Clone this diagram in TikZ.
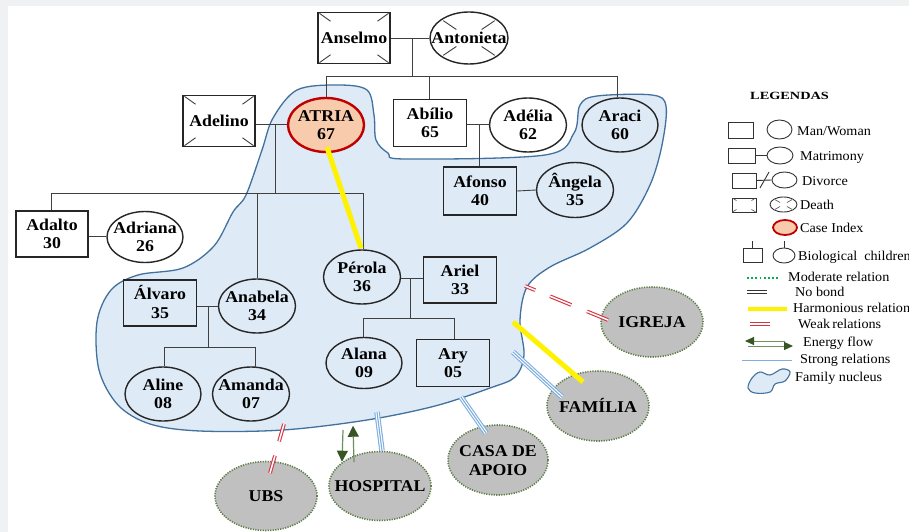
\documentclass[tikz,border=0pt]{standalone}
\usepackage{fontspec}
\setmainfont{Liberation Serif}
\newfontfamily\nodefont[FakeStretch=1.08]{Liberation Serif}
\newfontfamily\legfont[FakeStretch=1.05]{Liberation Serif}
\newfontfamily\legtitlefont[FakeStretch=1.3]{Liberation Serif}
\usetikzlibrary{shapes.geometric,calc,arrows.meta}
\definecolor{pagegrey}{HTML}{F0F1F3}
\definecolor{linegrey}{HTML}{404040}
\definecolor{nucfill}{HTML}{DEEAF6}
\definecolor{nucline}{HTML}{41719C}
\definecolor{extgrey}{HTML}{C0C0C0}
\definecolor{extgreen}{HTML}{5E7F47}
\definecolor{casefill}{HTML}{F8CBAD}
\definecolor{caseline}{HTML}{C00000}
\definecolor{weakred}{HTML}{D93340}
\definecolor{strongblue}{HTML}{7DAEE0}
\definecolor{energyline}{HTML}{6F8F5F}
\definecolor{energygreen}{HTML}{375623}
\definecolor{modgreen}{HTML}{00B050}
\newcommand{\tx}[1]{\raisebox{-12.5pt}{\smash{\makebox[0pt]{\begin{tabular}{@{}c@{}}#1\end{tabular}}}}}
\newcommand{\deathbox}[1]{%
  \foreach \cc in {north west,north east,south west,south east}{%
    \draw[link] ($(#1.\cc)!0.06!(#1.center)$) -- ($(#1.\cc)!0.36!(#1.center)$);}}
\newcommand{\deathell}[1]{%
  \foreach \cc in {north west,north east,south west,south east}{%
    \draw[link] ($(#1.center)!0.45!(#1.\cc)$) -- ($(#1.center)!0.92!(#1.\cc)$);}}
\begin{document}
\begin{tikzpicture}[x=1pt,y=-1pt,
  person/.style={font=\nodefont\bfseries\fontsize{16.5}{18.5}\selectfont, inner sep=0pt, line width=1.4pt, draw=black!85},
  manbox/.style={person, rectangle, minimum width=73pt, minimum height=47pt},
  womanell/.style={person, ellipse, minimum width=77pt, minimum height=54pt},
  ext/.style={ellipse, fill=extgrey, draw=extgreen, line width=1.6pt, dash pattern=on 1.2pt off 1.3pt, minimum width=102pt, minimum height=69pt, inner sep=0pt, font=\nodefont\bfseries\fontsize{16.5}{19}\selectfont},
  link/.style={draw=linegrey, line width=0.9pt},
  harm/.style={draw=yellow, line width=5pt},
  weakrel/.style={draw=weakred, double=white, double distance=1.5pt, line width=1.1pt},
  strongrel/.style={draw=strongblue, line width=5.5pt, postaction={draw=white, line width=3.3pt}, postaction={draw=strongblue, line width=1.1pt}},
  energy/.style={draw=energyline, line width=1.2pt, -{Triangle[length=11pt,width=11pt,color=energygreen]}},
  nucleus/.style={fill=nucfill, draw=nucline, line width=1.3pt},
  legtext/.style={anchor=west, inner sep=0pt, font=\legfont\fontsize{13.5}{15}\selectfont},
  legbox/.style={draw=black!80, line width=0.9pt, rectangle, inner sep=0pt},
  legell/.style={draw=black!80, line width=0.9pt, ellipse, inner sep=0pt}
]
% page
\useasboundingbox (0,0) rectangle (909,532);
\fill[pagegrey] (0,0) rectangle (909,532);
\fill[white] (8,6) rectangle (909,532);

% family nucleus
\draw[nucleus] plot[smooth cycle, tension=0.55] coordinates {(337,85) (367,90) (374,115) (376,140) (388,153) (405,159) (545,155) (574,133) (580,105) (597,96) (652,95) (666,106) (662,145) (650,185) (627,223) (590,248) (550,267) (527,287) (520,320) (524,355) (515,377) (490,388) (435,406) (367,420) (283,430) (200,431) (150,424) (118,405) (99,370) (97,322) (111,290) (138,275) (183,268) (214,246) (233,212) (246,195) (262,150) (273,118) (297,90)};

% persons
\node[manbox, minimum width=72pt, minimum height=51pt] (anselmo) at (354,38) {\tx{Anselmo}};
\node[womanell, minimum width=78pt, minimum height=52pt] (antonieta) at (469,38) {\tx{Antonieta}};
\node[manbox, minimum width=72pt, minimum height=51pt] (adelino) at (219,121) {\tx{Adelino}};
\node[womanell, fill=casefill, draw=caseline, line width=2.4pt, minimum width=76pt] (atria) at (326,125) {\tx{ATRIA\\67}};
\node[manbox] (abilio) at (430,123) {\tx{Abílio\\65}};
\node[womanell] (adelia) at (528,125) {\tx{Adélia\\62}};
\node[womanell, minimum width=76pt] (araci) at (620,125) {\tx{Araci\\60}};
\node[manbox, minimum height=48pt] (afonso) at (480,191) {\tx{Afonso\\40}};
\node[womanell, minimum height=55pt] (angela) at (575,190) {\tx{Ângela\\35}};
\node[manbox, minimum width=72pt, minimum height=46pt] (adalto) at (52,234) {\tx{Adalto\\30}};
\node[womanell, minimum width=76pt, minimum height=51pt] (adriana) at (145,237) {\tx{Adriana\\26}};
\node[manbox, minimum height=46pt] (alvaro) at (160,303) {\tx{Álvaro\\35}};
\node[womanell] (anabela) at (257,306) {\tx{Anabela\\34}};
\node[womanell] (perola) at (362,277) {\tx{Pérola\\36}};
\node[manbox, minimum height=46pt] (ariel) at (460,280) {\tx{Ariel\\33}};
\node[womanell, minimum width=76pt] (aline) at (163,394) {\tx{Aline\\08}};
\node[womanell] (amanda) at (251,394) {\tx{Amanda\\07}};
\node[womanell, minimum width=76pt, minimum height=51pt] (alana) at (364,363) {\tx{Alana\\09}};
\node[manbox] (ary) at (453,363) {\tx{Ary\\05}};

\deathbox{anselmo}
\deathbox{adelino}
\deathell{antonieta}

% kinship connectors
\coordinate (m1) at (412,38);
\coordinate (s1) at (412,76);
\coordinate (s1a) at (326,76);
\coordinate (s1b) at (429,76);
\coordinate (s1c) at (617,76);
\draw[link] (anselmo.east) -- (antonieta.west);
\draw[link] (m1) -- (s1);
\draw[link] (s1a) -- (s1c);
\draw[link] (s1a) -- (s1a |- atria.north);
\draw[link] (s1b) -- (s1b |- abilio.north);
\draw[link] (s1c) -- (s1c |- araci.north);

\coordinate (m2) at (275,124);
\coordinate (s2) at (275,193);
\coordinate (s2a) at (51,193);
\coordinate (s2b) at (257,193);
\coordinate (s2c) at (363,193);
\draw[link] (adelino.east |- m2) -- (atria.west |- m2);
\draw[link] (m2) -- (s2);
\draw[link] (s2a) -- (s2c);
\draw[link] (s2a) -- (s2a |- adalto.north);
\draw[link] (s2b) -- (s2b |- anabela.north);
\draw[link] (s2c) -- (s2c |- perola.north);

\coordinate (m3) at (98,236);
\draw[link] (adalto.east |- m3) -- (adriana.west |- m3);

\coordinate (m4) at (208,306);
\coordinate (s4) at (208,347);
\coordinate (s4a) at (164,347);
\coordinate (s4b) at (255,347);
\draw[link] (alvaro.east |- m4) -- (anabela.west |- m4);
\draw[link] (m4) -- (s4);
\draw[link] (s4a) -- (s4b);
\draw[link] (s4a) -- (s4a |- aline.north);
\draw[link] (s4b) -- ($(s4b |- amanda.north)+(0,1.5)$);

\coordinate (m5) at (410,278);
\coordinate (s5) at (410,318);
\coordinate (s5a) at (363,318);
\coordinate (s5b) at (454,318);
\draw[link] (perola.east |- m5) -- (ariel.west |- m5);
\draw[link] (m5) -- (s5);
\draw[link] (s5a) -- (s5b);
\draw[link] (s5a) -- (s5a |- alana.north);
\draw[link] (s5b) -- (s5b |- ary.north);

\coordinate (m6) at (479,124);
\draw[link] (abilio.east |- m6) -- (adelia.west |- m6);
\draw[link] (m6) -- (m6 |- afonso.north);
\draw[link] (afonso.east) -- (angela.west);

% external systems
\node[ext] (ubs) at (266,496) {\tx{UBS}};
\node[ext] (hosp) at (380,486) {\tx{HOSPITAL}};
\node[ext, minimum width=100pt, minimum height=70pt] (casa) at (498,460) {\tx{CASA DE\\APOIO}};
\node[ext, minimum height=70pt] (familia) at (598,406) {\tx{FAMÍLIA}};
\node[ext, minimum height=70pt] (igreja) at (652,322) {\tx{IGREJA}};

% relations
\draw[harm] ($(atria.south)+(1,-6)$) -- ($(perola.north)+(-1,-1)$);
\coordinate (harmnuc) at (513,322);
\draw[harm] (harmnuc) -- ($(familia.center)+(-15,-24)$);

\coordinate (weaknuc) at (525,286);
\draw[weakrel, dash pattern=on 11pt off 16pt on 23pt off 17pt on 23pt off 30pt] (weaknuc) -- ($(igreja.center)+(-44,-2)$);
\coordinate (weakubs) at (284,424);
\draw[weakrel, dash pattern=on 18pt off 15pt on 18pt off 30pt] (weakubs) -- ($(ubs.center)+(4,-23)$);

\coordinate (stronghosp) at (377,412);
\draw[strongrel] (stronghosp) -- ($(hosp.north)+(2,0)$);
\coordinate (strongcasa) at (461,397);
\draw[strongrel] (strongcasa) -- ($(casa.center)+(-12,-27)$);
\coordinate (strongfam) at (513,352);
\draw[strongrel] (strongfam) -- ($(familia.center)+(-36,-9)$);

\coordinate (enA) at (343,430);
\coordinate (enB) at (354,462);
\draw[energy] (enA) -- ($(hosp.north)+(-38,11)$);
\draw[energy] (enB) -- ($(hosp.north)+(-27,-25)$);

% legend
\node[anchor=west, inner sep=0pt, font=\legtitlefont\bfseries\fontsize{11}{12}\selectfont] (legtitle) at (750,96) {LEGENDAS};

\node[legbox, minimum width=25pt, minimum height=16pt] (lg1a) at (740.5,130) {};
\node[legell, minimum width=25pt, minimum height=19pt] (lg1b) at (779.5,129.5) {};
\node[legtext] (lt1) at (797,131) {Man/Woman};

\node[legbox, minimum width=27pt, minimum height=15pt] (lg2a) at (741.5,155.5) {};
\node[legell, minimum width=26pt, minimum height=17pt] (lg2b) at (780,155.5) {};
\draw[draw=black!80, line width=0.9pt] (lg2a.east) -- (lg2b.west);
\node[legtext] (lt2) at (800,157) {Matrimony};

\node[legbox, minimum width=24pt, minimum height=15pt] (lg3a) at (744,180.5) {};
\node[legell, minimum width=25pt, minimum height=16pt] (lg3b) at (784.5,180) {};
\draw[draw=black!80, line width=0.9pt] (lg3a.east) -- (lg3b.west);
\coordinate (sl1) at (760,188);
\coordinate (sl2) at (769,172);
\draw[draw=black!80, line width=0.9pt] (sl1) -- (sl2);
\node[legtext] (lt3) at (802,181) {Divorce};

\node[legbox, minimum width=24pt, minimum height=14pt] (lg4a) at (744,205) {};
\node[legell, minimum width=27pt, minimum height=15pt] (lg4b) at (783.5,204.5) {};
\foreach \cc in {north west,north east,south west,south east}{%
  \draw[draw=black!70, line width=0.6pt] ($(lg4a.\cc)!0.08!(lg4a.center)$) -- ($(lg4a.\cc)!0.4!(lg4a.center)$);
  \draw[draw=black!70, line width=0.6pt] ($(lg4b.center)!0.35!(lg4b.\cc)$) -- ($(lg4b.center)!0.85!(lg4b.\cc)$);}
\node[legtext] (lt4) at (800,205) {Death};

\node[ellipse, fill=casefill, draw=caseline, line width=1.8pt, minimum width=24pt, minimum height=15pt, inner sep=0pt] (lg5) at (785,227.5) {};
\node[legtext] (lt5) at (800,228) {Case Index};

\node[legbox, minimum width=19pt, minimum height=14pt] (lg6a) at (752.5,255) {};
\node[legell, minimum width=22pt, minimum height=15pt] (lg6b) at (784,255.5) {};
\draw[draw=black!80, line width=0.9pt] (lg6a.north) -- ++(0,-7);
\draw[draw=black!80, line width=0.9pt] (lg6b.north) -- ++(0,-7);
\node[legtext] (lt6) at (798,257) {Biological\ \ children};

\coordinate (lm1) at (747,278);
\coordinate (lm2) at (780,278);
\draw[draw=modgreen, line width=1.8pt, dash pattern=on 1.8pt off 2.4pt] (lm1) -- (lm2);
\node[legtext] (lt7) at (788,277) {Moderate relation};

\coordinate (ln1) at (747,292);
\coordinate (ln2) at (767,292);
\draw[draw=black!80, double=white, double distance=1.1pt, line width=1.1pt] (ln1) -- (ln2);
\node[legtext] (lt8) at (795,292) {No bond};

\coordinate (lh1) at (748,309);
\coordinate (lh2) at (787,309);
\draw[draw=yellow, line width=4pt] (lh1) -- (lh2);
\node[legtext] (lt9) at (793,308) {Harmonious\ relation};

\coordinate (lw1) at (750,324);
\coordinate (lw2) at (770,324);
\draw[weakrel, line width=1pt, double distance=1.4pt] (lw1) -- (lw2);
\node[legtext] (lt10) at (798,324) {Weak\,relations};

\coordinate (le1) at (785,341);
\coordinate (le2) at (745,341);
\coordinate (le3) at (748,346);
\coordinate (le4) at (793,346);
\draw[energy, line width=1pt, -{Triangle[length=9pt,width=8pt,color=energygreen]}] (le1) -- (le2);
\draw[energy, line width=1pt, -{Triangle[length=9pt,width=8pt,color=energygreen]}] (le3) -- (le4);
\node[legtext] (lt11) at (803,343) {Energy flow};

\coordinate (ls1) at (742,360);
\coordinate (ls2) at (792,360);
\draw[strongrel, line width=4.5pt, postaction={draw=white, line width=2.6pt}, postaction={draw=strongblue, line width=0.9pt}] (ls1) -- (ls2);
\node[legtext] (lt12) at (800,360) {Strong relations};

\draw[nucleus, line width=1.1pt] plot[smooth cycle, tension=0.6] coordinates {(752,378) (760,372) (770,375) (782,369) (790,372) (785,381) (775,384) (770,392) (755,393) (748,388)};
\node[legtext] (lt13) at (795,378) {Family nucleus};
\end{tikzpicture}
\end{document}
